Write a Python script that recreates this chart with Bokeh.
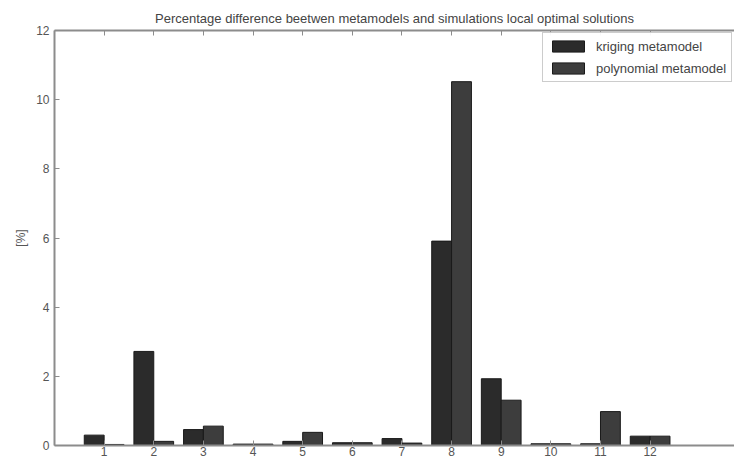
from bokeh.plotting import figure
from bokeh.models import ColumnDataSource, FixedTicker, LinearAxis, Range1d, Legend, LegendItem
from bokeh.transform import dodge
from bokeh.embed import file_html
from bokeh.resources import INLINE

cases = [1, 2, 3, 4, 5, 6, 7, 8, 9, 10, 11, 12]
kriging = [0.30, 2.72, 0.46, 0.04, 0.12, 0.08, 0.20, 5.91, 1.93, 0.05, 0.05, 0.27]
polynomial = [0.03, 0.12, 0.56, 0.04, 0.38, 0.08, 0.07, 10.52, 1.31, 0.05, 0.98, 0.27]
y_ticks = [0, 2, 4, 6, 8, 10, 12]

src = ColumnDataSource(dict(x=cases, k=kriging, p=polynomial))

FONT = "Liberation Sans"
AXC = "#8c8c8c"
TXT = "#555555"

p = figure(width=734, height=458, output_backend="svg", toolbar_location=None,
           x_range=Range1d(0, 13.7), y_range=Range1d(0, 12),
           title="Percentage difference beetwen metamodels and simulations local optimal solutions",
           min_border_left=54, min_border_right=0, min_border_top=30, min_border_bottom=0)
p.title.align = "center"
p.title.text_font = FONT
p.title.text_font_size = "13px"
p.title.text_font_style = "normal"
p.title.text_color = "#444444"
p.outline_line_color = None
p.grid.visible = False
p.background_fill_color = "white"

rk = p.vbar(x=dodge("x", -0.2, range=p.x_range), top="k", width=0.4, source=src,
            fill_color="#2b2b2b", line_color="#1a1a1a", line_width=1)
rp = p.vbar(x=dodge("x", 0.2, range=p.x_range), top="p", width=0.4, source=src,
            fill_color="#3d3d3d", line_color="#1a1a1a", line_width=1)

for ax in (p.xaxis[0], p.yaxis[0]):
    ax.axis_line_color = AXC
    ax.axis_line_width = 2
    ax.major_tick_line_color = AXC
    ax.major_tick_in = 5
    ax.major_tick_out = 0
    ax.minor_tick_line_color = None
    ax.major_label_text_font = FONT
    ax.major_label_text_font_size = "12px"
    ax.major_label_text_color = TXT

p.xaxis[0].ticker = FixedTicker(ticks=cases)
p.xaxis[0].major_label_standoff = 1
p.yaxis[0].ticker = FixedTicker(ticks=y_ticks)
p.yaxis[0].axis_label = "[%]"
p.yaxis[0].axis_label_text_font = FONT
p.yaxis[0].axis_label_text_font_size = "12px"
p.yaxis[0].axis_label_text_font_style = "normal"
p.yaxis[0].axis_label_text_color = TXT
p.yaxis[0].major_label_standoff = 5
p.yaxis[0].axis_label_standoff = 5

top = LinearAxis(ticker=FixedTicker(ticks=cases),
                 major_label_overrides={c: "" for c in cases})
top.axis_line_color = AXC
top.axis_line_width = 2
top.major_tick_line_color = AXC
top.major_tick_in = 5
top.major_tick_out = 0
top.minor_tick_line_color = None
top.major_label_standoff = 0
p.add_layout(top, "above")

legend = Legend(items=[LegendItem(label="kriging metamodel", renderers=[rk]),
                       LegendItem(label="polynomial metamodel", renderers=[rp])],
                location=(488, 363))
legend.label_text_font = FONT
legend.label_text_font_size = "13px"
legend.label_text_color = "#444444"
legend.glyph_width = 40
legend.glyph_height = 14
legend.label_height = 16
legend.spacing = 6
legend.padding = 5
legend.margin = 0
legend.border_line_color = "#999999"
legend.label_standoff = 8
p.add_layout(legend, "center")

open("out.html", "w").write(file_html(p, INLINE))
